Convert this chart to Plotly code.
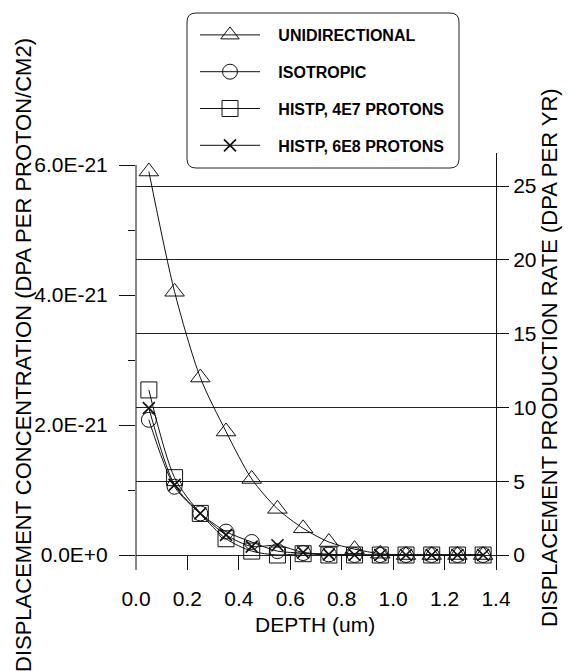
import plotly.graph_objects as go

# ---- data (depth in um, concentration in units of 1E-21 DPA per proton/cm2) ----
depth = [0.05, 0.15, 0.25, 0.35, 0.45, 0.55, 0.65, 0.75, 0.85, 0.95, 1.05, 1.15, 1.25, 1.35]
unidirectional = [5.90, 4.05, 2.73, 1.90, 1.17, 0.71, 0.41, 0.20, 0.09, 0.02, 0.0, 0.0, 0.0, 0.0]
isotropic = [2.08, 1.05, 0.64, 0.36, 0.20, 0.06, 0.03, 0.01, 0.0, 0.0, 0.0, 0.0, 0.0, 0.0]
histp_4e7 = [2.54, 1.19, 0.64, 0.25, 0.06, 0.0, 0.02, 0.0, 0.0, 0.0, 0.0, 0.0, 0.0, 0.0]
histp_6e8 = [2.26, 1.08, 0.64, 0.31, 0.13, 0.15, 0.04, 0.01, 0.0, 0.0, 0.0, 0.0, 0.0, 0.0]
scale = 1e-21

series_names = ["UNIDIRECTIONAL", "ISOTROPIC", "HISTP, 4E7 PROTONS", "HISTP, 6E8 PROTONS"]
left_tickvals = [0, 2, 4, 6]
left_ticktext = ["0.0E+0", "2.0E-21", "4.0E-21", "6.0E-21"]
right_tickvals = [0, 5, 10, 15, 20, 25]
x_tickvals = [0.0, 0.2, 0.4, 0.6, 0.8, 1.0, 1.2, 1.4]
x_ticktext = ["0.0", "0.2", "0.4", "0.6", "0.8", "1.0", "1.2", "1.4"]

# right axis: 25 DPA/yr corresponds to about 5.676E-21
right_per_left = 25.0 / 5.676

FONT = "Arial, Liberation Sans, sans-serif"
W, H = 568, 671
L, R, T, B = 136, 72, 153, 101
y_lo, y_hi = -0.2308, 6.185

fig = go.Figure()
symbols = ["triangle-up-open", "circle-open", "square-open", "x-thin-open"]
sizes = [17, 15, 16, 12]
data = [unidirectional, isotropic, histp_4e7, histp_6e8]
PAD = "\u00a0\u00a0\u00a0"
for i, (name, ys) in enumerate(zip(series_names, data)):
    fig.add_trace(go.Scatter(
        x=depth, y=[v * scale for v in ys], name=PAD + name, mode="lines+markers",
        legendgroup=f"g{i}",
        line=dict(color="#111", width=1, shape="spline", smoothing=0.8),
        marker=dict(symbol=symbols[i], size=sizes[i], color="#111",
                    line=dict(color="#111", width=1.7 if i == 3 else 1)),
    ))

# invisible trace to activate the right axis
fig.add_trace(go.Scatter(x=[depth[0]], y=[0], yaxis="y2", mode="markers",
                         marker=dict(opacity=0), showlegend=False, hoverinfo="skip"))

def px_x(p):
    return (p - L) / (W - L - R)

def px_y(p):
    return (H - B - p) / (H - T - B)

fig.update_layout(
    width=W, height=H, autosize=False,
    margin=dict(l=L, r=R, t=T, b=B, pad=0),
    paper_bgcolor="white", plot_bgcolor="white",
    font=dict(family=FONT, size=21, color="black"),
    showlegend=True,
    legend=dict(
        x=px_x(195), y=px_y(18), xanchor="left", yanchor="top",
        bgcolor="rgba(0,0,0,0)", borderwidth=0,
        font=dict(family=FONT, size=16, color="black", weight="bold"),
        itemwidth=60, tracegroupgap=13, traceorder="grouped",
        itemsizing="trace",
    ),
    xaxis=dict(
        range=[0, 1.4], showgrid=False, zeroline=False, showline=False,
        tickmode="array", tickvals=x_tickvals, ticktext=x_ticktext,
        ticks="inside", ticklen=15, tickwidth=1, tickcolor="#111",
        ticklabelstandoff=14, tickfont=dict(size=21),
    ),
    yaxis=dict(
        range=[y_lo * scale, y_hi * scale], showgrid=False, zeroline=False,
        showline=False,
        tickmode="array", tickvals=[v * scale for v in left_tickvals],
        ticktext=left_ticktext,
        ticks="outside", ticklen=16, tickwidth=1, tickcolor="#111",
        ticklabelstandoff=7, tickfont=dict(size=21),
        minor=dict(tickmode="array", tickvals=[1 * scale, 3 * scale, 5 * scale],
                   ticks="outside", ticklen=7, tickcolor="#111", showgrid=False),
    ),
    yaxis2=dict(
        overlaying="y", side="right",
        range=[y_lo * right_per_left, y_hi * right_per_left],
        tickmode="array", tickvals=right_tickvals,
        showgrid=True, gridcolor="#222", gridwidth=1,
        zeroline=True, zerolinecolor="#222", zerolinewidth=1,
        showline=True, linecolor="#111", linewidth=1,
        ticks="outside", ticklen=12, tickwidth=1, tickcolor="#111",
        tickfont=dict(size=21),
    ),
)

# left axis line (from bottom up to 6.0E-21)
fig.add_shape(type="line", xref="paper", yref="y", x0=0, x1=0,
              y0=y_lo * scale, y1=6 * scale, line=dict(color="#111", width=1))

# rounded legend frame
x0, x1 = px_x(187), px_x(459)
y0, y1 = px_y(168), px_y(13)
rx, ry = 9 / (W - L - R), 9 / (H - T - B)
path = (f"M {x0+rx},{y1} L {x1-rx},{y1} Q {x1},{y1} {x1},{y1-ry} "
        f"L {x1},{y0+ry} Q {x1},{y0} {x1-rx},{y0} L {x0+rx},{y0} "
        f"Q {x0},{y0} {x0},{y0+ry} L {x0},{y1-ry} Q {x0},{y1} {x0+rx},{y1} Z")
fig.add_shape(type="path", xref="paper", yref="paper", path=path,
              fillcolor="white", line=dict(color="#222", width=1), layer="above")

# axis titles
fig.add_annotation(text="DISPLACEMENT CONCENTRATION (DPA PER PROTON/CM2)",
                   xref="paper", yref="paper", x=px_x(23), y=px_y(355),
                   textangle=-90, showarrow=False, xanchor="center", yanchor="middle",
                   font=dict(size=22, family=FONT))
fig.add_annotation(text="DISPLACEMENT PRODUCTION RATE (DPA PER YR)",
                   xref="paper", yref="paper", x=px_x(549), y=px_y(358),
                   textangle=-90, showarrow=False, xanchor="center", yanchor="middle",
                   font=dict(size=22, family=FONT))
fig.add_annotation(text="DEPTH (um)", xref="paper", yref="paper",
                   x=px_x(315), y=px_y(624), showarrow=False,
                   xanchor="center", yanchor="middle", font=dict(size=21, family=FONT))

fig.write_html(
    "out.html",
    config={"displayModeBar": False},
    post_script="document.body.style.margin='0';document.body.style.padding='0';"
                "document.body.style.overflow='hidden';",
)
